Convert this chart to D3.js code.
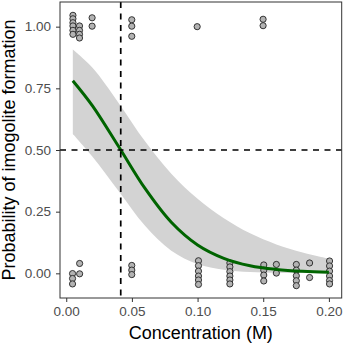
<!DOCTYPE html>
<html>
<head>
<meta charset="utf-8">
<script src="https://cdn.jsdelivr.net/npm/d3@7"></script>
<style>
  html, body { margin: 0; padding: 0; background: #fff; }
  text { font-family: "Liberation Sans", Arial, Helvetica, sans-serif; }
</style>
</head>
<body>
<svg id="chart" width="345" height="344"></svg>
<script>
// ---- data ----
const xTicks = [0.00, 0.05, 0.10, 0.15, 0.20];
const yTicks = [0.00, 0.25, 0.50, 0.75, 1.00];

// fitted logistic curve and its confidence band
const fitX     = [0.005, 0.02, 0.04, 0.06, 0.08, 0.10, 0.12, 0.14, 0.16, 0.18, 0.20];
const fitY     = [0.781, 0.679, 0.513, 0.344, 0.207, 0.115, 0.061, 0.031, 0.016, 0.008, 0.004];
const fitLower = [0.565, 0.473, 0.333, 0.193, 0.092, 0.038, 0.015, 0.005, 0.002, 0.001, 0.000];
const fitUpper = [0.907, 0.833, 0.690, 0.535, 0.404, 0.302, 0.223, 0.162, 0.117, 0.084, 0.059];

// jittered observations (concentration, outcome)
const pointX = [
  0.0051, 0.0051, 0.0051, 0.0051, 0.0051, 0.0051,
  0.0101, 0.0101, 0.0101, 0.0101,
  0.0197, 0.0197,
  0.0499, 0.0499, 0.0499,
  0.0997,
  0.1499, 0.1499,
  0.0048, 0.0048, 0.0048,
  0.0102, 0.0102,
  0.0499, 0.0499, 0.0499,
  0.1007, 0.1007, 0.1007, 0.1007, 0.1007, 0.1007,
  0.1246, 0.1246, 0.1246, 0.1246, 0.1246, 0.1246,
  0.1504, 0.1504, 0.1504, 0.1504,
  0.1600, 0.1600,
  0.1752, 0.1752, 0.1752, 0.1752, 0.1752,
  0.1853, 0.1853,
  0.2005, 0.2005, 0.2005, 0.2005, 0.2005, 0.2005
];
const pointY = [
  1.046, 1.032, 1.016, 1.003, 0.985, 0.969,
  1.003, 0.985, 0.969, 0.954,
  1.036, 1.002,
  1.028, 1.002, 0.961,
  1.000,
  1.030, 1.004,
  -0.001, -0.021, -0.043,
  0.040, -0.002,
  0.032, 0.013, -0.005,
  0.051, 0.031, 0.009, -0.011, -0.027, -0.045,
  0.042, 0.026, 0.007, -0.011, -0.027, -0.043,
  0.034, 0.013, -0.007, -0.031,
  0.036, 0.001,
  0.036, 0.013, -0.010, -0.030, -0.050,
  0.042, -0.017,
  0.050, 0.030, 0.009, -0.011, -0.029, -0.043
];

const refX = 0.0415;   // concentration at 50 % probability
const refY = 0.50;

const xTitle = "Concentration (M)";
const yTitle = "Probability of imogolite formation";

// ---- layout ----
const svg = d3.select("#chart");
const panel = { left: 60, right: 341.7, top: 2, bottom: 298 };

const x = d3.scaleLinear().domain([-0.00475, 0.20975]).range([panel.left, panel.right]);
const y = d3.scaleLinear().domain([-0.1, 1.1]).range([panel.bottom, panel.top]);

const fit = fitX.map((v, i) => ({ x: v, y: fitY[i], lo: fitLower[i], hi: fitUpper[i] }));
const pts = pointX.map((v, i) => ({ x: v, y: pointY[i] }));

// ribbon
svg.append("path")
  .datum(fit)
  .attr("fill", "#d3d3d3")
  .attr("stroke", "none")
  .attr("d", d3.area()
    .x(d => x(d.x)).y0(d => y(d.lo)).y1(d => y(d.hi))
    .curve(d3.curveCatmullRom));

// points
svg.append("g").selectAll("circle")
  .data(pts).join("circle")
  .attr("cx", d => x(d.x))
  .attr("cy", d => y(d.y))
  .attr("r", 3.1)
  .attr("fill", "#b3b3b3")
  .attr("stroke", "#222")
  .attr("stroke-width", 0.9);

// fitted line
svg.append("path")
  .datum(fit)
  .attr("fill", "none")
  .attr("stroke", "#006400")
  .attr("stroke-width", 3)
  .attr("d", d3.line().x(d => x(d.x)).y(d => y(d.y)).curve(d3.curveCatmullRom));

// reference dashed lines
svg.append("line")
  .attr("x1", x(refX)).attr("x2", x(refX))
  .attr("y1", panel.top).attr("y2", panel.bottom)
  .attr("stroke", "#000").attr("stroke-width", 1.7)
  .attr("stroke-dasharray", "6,5.5");
svg.append("line")
  .attr("x1", panel.left).attr("x2", panel.right)
  .attr("y1", y(refY)).attr("y2", y(refY))
  .attr("stroke", "#000").attr("stroke-width", 1.7)
  .attr("stroke-dasharray", "6,5.5");

// panel border
svg.append("rect")
  .attr("x", panel.left).attr("y", panel.top)
  .attr("width", panel.right - panel.left).attr("height", panel.bottom - panel.top)
  .attr("fill", "none").attr("stroke", "#333").attr("stroke-width", 1);

// axes
const xAxis = svg.append("g")
  .attr("transform", `translate(0,${panel.bottom})`)
  .call(d3.axisBottom(x).tickValues(xTicks).tickFormat(d3.format(".2f")).tickSizeOuter(0).tickSize(4).tickPadding(4));
const yAxis = svg.append("g")
  .attr("transform", `translate(${panel.left},0)`)
  .call(d3.axisLeft(y).tickValues(yTicks).tickFormat(d3.format(".2f")).tickSizeOuter(0).tickSize(4).tickPadding(5));

[xAxis, yAxis].forEach(g => {
  g.select(".domain").remove();
  g.selectAll(".tick line").attr("stroke", "#333").attr("stroke-width", 1);
  g.selectAll(".tick text")
    .attr("fill", "#4d4d4d")
    .style("font-size", "13.5px")
    .style("font-family", "'Liberation Sans', Arial, sans-serif");
});

// titles
svg.append("text")
  .attr("x", (panel.left + panel.right) / 2)
  .attr("y", 339)
  .attr("text-anchor", "middle")
  .style("font-size", "18px")
  .attr("fill", "#000")
  .text(xTitle);

svg.append("text")
  .attr("transform", `translate(15,${(panel.top + panel.bottom) / 2}) rotate(-90)`)
  .attr("text-anchor", "middle")
  .style("font-size", "18px")
  .attr("fill", "#000")
  .text(yTitle);
</script>
</body>
</html>
